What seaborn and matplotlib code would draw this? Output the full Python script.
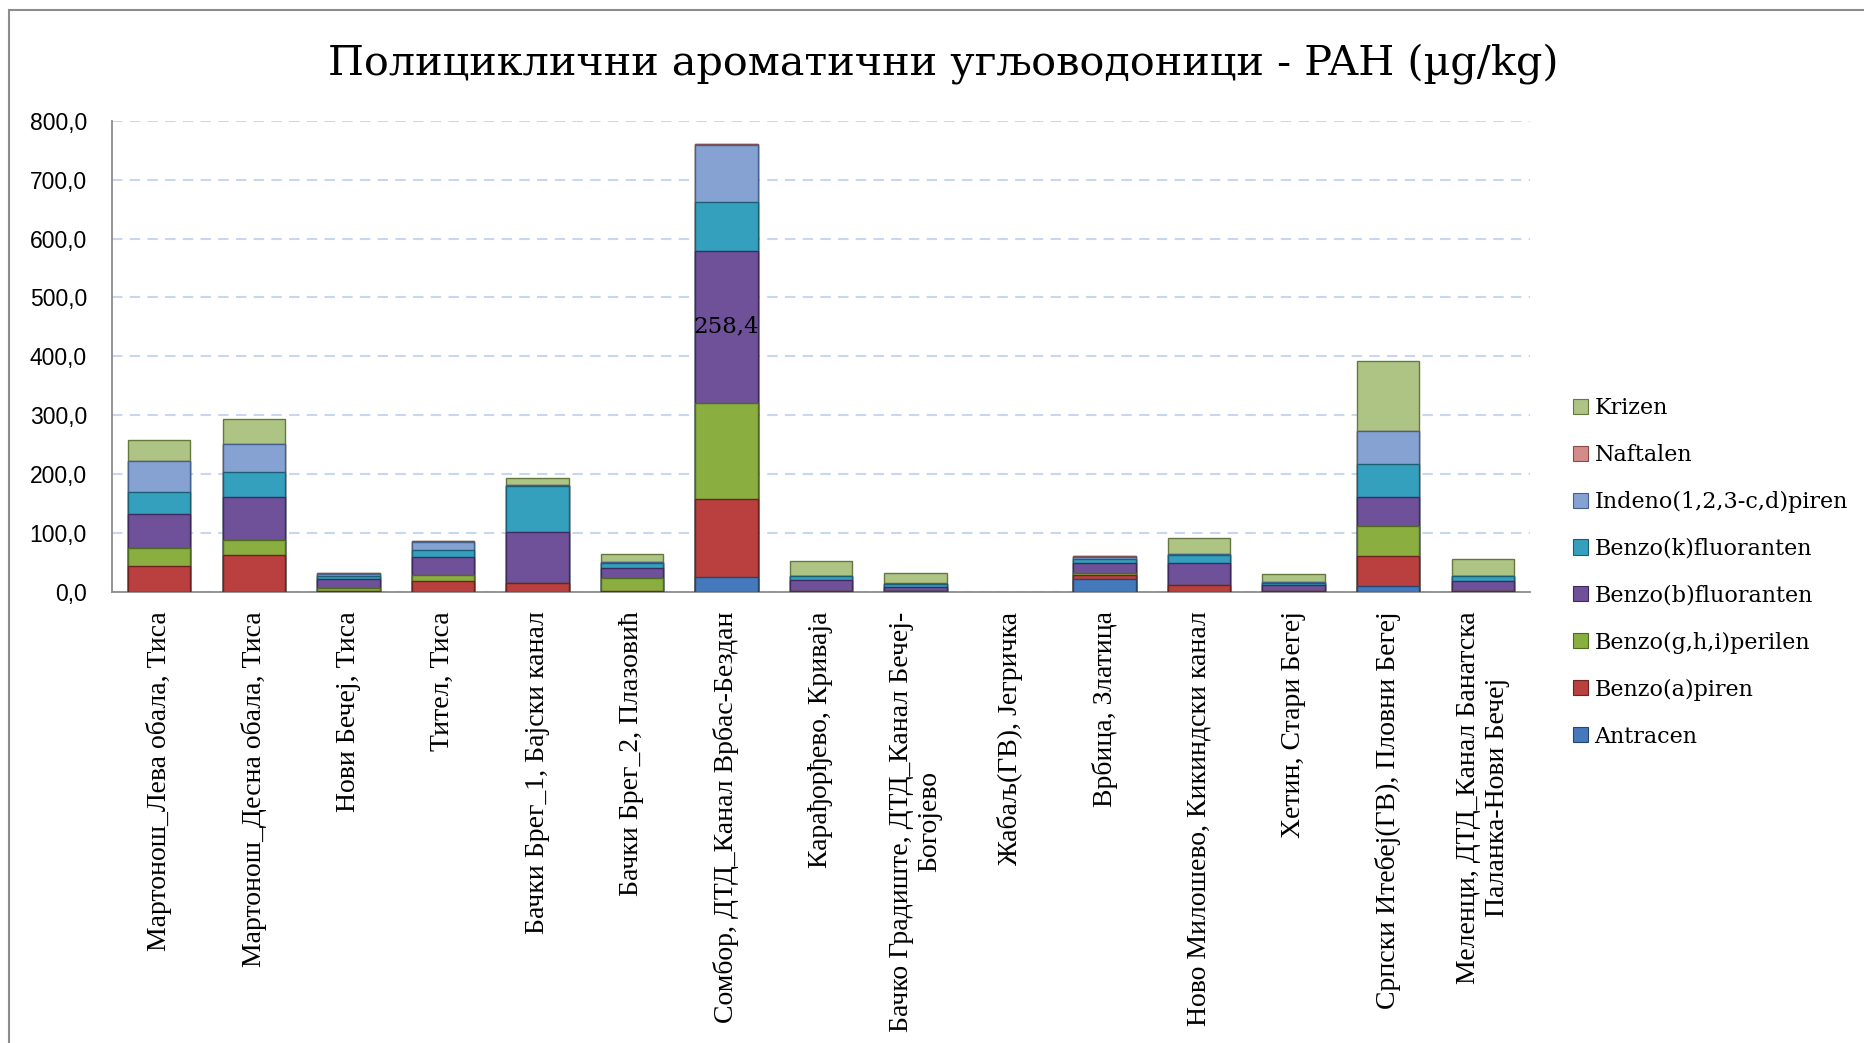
import numpy as np
import pandas as pd
import matplotlib
matplotlib.use('Agg')
import matplotlib.pyplot as plt
from matplotlib.patches import Patch, Rectangle
from matplotlib.ticker import FuncFormatter
import seaborn as sns

# локалитети (x оса)
sites = ['Мартонош_Лева обала, Тиса', 'Мартонош_Десна обала, Тиса', 'Нови Бечеј, Тиса',
         'Тител, Тиса', 'Бачки Брег_1, Бајски канал', 'Бачки Брег_2, Плазовић',
         'Сомбор, ДТД_Канал Врбас-Бездан', 'Карађорђево, Криваја',
         'Бачко Градиште, ДТД_Канал Бечеј-\nБогојево', 'Жабаљ(ГВ), Јегричка',
         'Врбица, Златица', 'Ново Милошево, Кикиндски канал', 'Хетин, Стари Бегеј',
         'Српски Итебеј(ГВ), Пловни Бегеј', 'Меленци, ДТД_Канал Банатска\nПаланка-Нови Бечеј']

# вредности по једињењу (µg/kg), очитано са графика
antracen = [0, 0, 0.5, 0, 0, 0.5, 26.0, 0, 2.0, 0, 22.0, 0, 0, 10.8, 0]
benzo_a_piren = [44.7, 62.8, 2.0, 18.0, 14.7, 0.5, 131.9, 1.0, 0, 0, 6.8, 11.9, 1.0, 51.0, 1.0]
benzo_ghi_perilen = [29.5, 25.5, 5.0, 10.8, 1.0, 23.3, 163.0, 0, 0, 0, 4.0, 0, 0, 51.0, 0]
benzo_b_fluoranten = [58.0, 73.6, 14.0, 31.0, 85.6, 17.0, 258.4, 18.7, 7.0, 0, 15.8, 36.8, 10.2, 49.2, 17.7]
benzo_k_fluoranten = [38.0, 42.4, 5.0, 11.3, 78.7, 8.5, 82.0, 7.4, 4.0, 0, 7.4, 14.2, 4.5, 54.9, 8.5]
indeno_piren = [52.0, 46.4, 4.0, 14.0, 1.0, 1.7, 96.8, 0.5, 1.0, 0, 2.8, 1.5, 1.5, 56.6, 0]
naftalen = [0.5, 0.5, 1.5, 1.7, 0.5, 0, 1.7, 0, 1.5, 0, 2.3, 0, 0, 0, 0]
krizen = [35.0, 42.5, 0, 0, 12.0, 13.0, 0, 24.3, 17.5, 0, 0, 26.6, 13.6, 118.8, 28.3]

series_names = ['Antracen', 'Benzo(a)piren', 'Benzo(g,h,i)perilen', 'Benzo(b)fluoranten',
                'Benzo(k)fluoranten', 'Indeno(1,2,3-c,d)piren', 'Naftalen', 'Krizen']
series_vals = [antracen, benzo_a_piren, benzo_ghi_perilen, benzo_b_fluoranten,
               benzo_k_fluoranten, indeno_piren, naftalen, krizen]
colors = ['#4479BB', '#B9403E', '#8AAE40', '#6E5199', '#35A0BD', '#86A2D3', '#D38C8A', '#ADC484']
edges = ['#26456E', '#6E2220', '#4E6A1E', '#3E2A5E', '#1C5F72', '#44618E', '#8A4A48', '#66783F']

df = pd.DataFrame(dict(zip(series_names, series_vals)))
df['site'] = sites
cum = df[series_names].cumsum(axis=1)

fig = plt.figure(figsize=(18.65, 10.43), dpi=100)
ax = fig.add_axes([112 / 1865, 1 - 592 / 1043, (1530 - 112) / 1865, (592 - 120.7) / 1043])

# сложени стубови: прво укупно, па надоле
for i in reversed(range(len(series_names))):
    sns.barplot(x=df['site'], y=cum[series_names[i]], color=colors[i], saturation=1,
                width=0.66, edgecolor=edges[i], linewidth=1.0, ax=ax, zorder=3)

# празни стубови без ивице
for p in ax.patches:
    if p.get_height() == 0:
        p.set_linewidth(0)

# ознака вредности на стубу за Сомбор
i_s = 6
y_mid = cum['Benzo(g,h,i)perilen'][i_s] + benzo_b_fluoranten[i_s] / 2
ax.text(i_s, y_mid, f'{benzo_b_fluoranten[i_s]:.1f}'.replace('.', ','), ha='center', va='center',
        fontsize=16.5, family='DejaVu Serif', color='black', zorder=5)

ax.set_ylim(0, 800)
ax.set_xlim(-0.5, 14.5)
ax.set_yticks(np.arange(0, 801, 100))
ax.yaxis.set_major_formatter(FuncFormatter(lambda v, p: f'{v:.1f}'.replace('.', ',')))
ax.grid(axis='y', color='#C6D7EF', linestyle=(0, (5, 3.5)), linewidth=1.5, zorder=0)
ax.set_axisbelow(True)
ax.set_xlabel('')
ax.set_ylabel('')
for s in ['top', 'right']:
    ax.spines[s].set_visible(False)
for s in ['left', 'bottom']:
    ax.spines[s].set_color('#8C8C8C')
    ax.spines[s].set_linewidth(1.3)

ax.tick_params(axis='y', length=0, pad=18, labelsize=16.5)
for t in ax.get_yticklabels():
    t.set_family('Liberation Sans')
ax.tick_params(axis='x', length=0, pad=14)
ax.set_xticks(range(len(sites)))
ax.set_xticklabels(sites, rotation=90, ha='center', va='top', multialignment='center',
                   fontsize=20, family='Liberation Serif')

fig.text(0.506, 1 - 64 / 1043, 'Полициклични ароматични угљоводоници - PAH (µg/kg)',
         ha='center', va='center', fontsize=29.8, family='DejaVu Serif')

handles = [Patch(facecolor=colors[i], edgecolor=edges[i], linewidth=0.8) for i in reversed(range(8))]
labels = list(reversed(series_names))
fig.legend(handles, labels, loc='upper left', bbox_to_anchor=(1573 / 1865, 1 - 397 / 1043),
           frameon=False, borderpad=0, borderaxespad=0, handlelength=0.67, handleheight=0.67,
           handletextpad=0.3, labelspacing=1.12, prop={'family': 'DejaVu Serif', 'size': 16})

# оквир графика
fig.patches.append(Rectangle((9.5 / 1865, -0.1), 1.2, 1.1 - 10 / 1043, transform=fig.transFigure,
                             fill=False, edgecolor='#8C8C8C', linewidth=1.5))

fig.savefig('out.png', dpi=100)
